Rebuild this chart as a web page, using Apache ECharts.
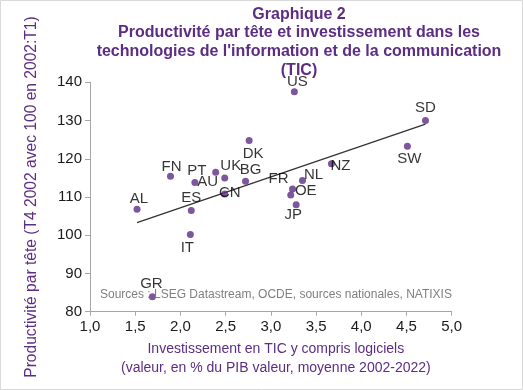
<!DOCTYPE html>
<html>
<head>
<meta charset="utf-8">
<script src="https://cdn.jsdelivr.net/npm/echarts@6/dist/echarts.min.js"></script>
<style>
html,body{margin:0;padding:0;background:#fff;}
#chart{width:523px;height:390px;}
</style>
</head>
<body>
<div id="chart"></div>
<script>
// ---- Data ----
const countries = ['AL','FN','ES','PT','AU','UK','CN','BG','DK','US','SD','SW','NZ','NL','FR','OE','JP','IT','GR'];
const ictInvestment = [1.52,1.89,2.12,2.16,2.39,2.49,2.49,2.72,2.76,3.26,4.71,4.51,3.67,3.35,3.24,3.22,3.28,2.11,1.69];
const productivity = [106.8,115.4,106.5,113.8,116.5,115.0,110.8,114.1,124.8,137.5,130.0,123.3,118.7,114.3,112.1,110.5,108.0,100.2,83.9];
const xTicks = [1.0,1.5,2.0,2.5,3.0,3.5,4.0,4.5,5.0];
const yTicks = [80,90,100,110,120,130,140];

// ---- Label placement (style only, px offsets from marker centre) ----
const labelOffsets = {
  AL:[2,-10], FN:[1,-9], ES:[0,-13], PT:[2,-12], AU:[-8,10], UK:[6,-12],
  CN:[5,-1], BG:[5,-11], DK:[4,13], US:[3,-10], SD:[0,-13], SW:[2,13],
  NZ:[9,2], NL:[11,-6], FR:[-14,-10], OE:[15,-4], JP:[-3,10], IT:[-3,13], GR:[-1,-13]
};

// ---- Linear regression trend line ----
const n = ictInvestment.length;
const mx = ictInvestment.reduce((a,b)=>a+b,0)/n;
const my = productivity.reduce((a,b)=>a+b,0)/n;
let sxy=0, sxx=0;
for (let i=0;i<n;i++){ sxy += (ictInvestment[i]-mx)*(productivity[i]-my); sxx += (ictInvestment[i]-mx)**2; }
const slope = sxy/sxx, intercept = my - slope*mx;
const xmin = Math.min(...ictInvestment), xmax = Math.max(...ictInvestment);
const trend = [[xmin, intercept+slope*xmin],[xmax, intercept+slope*xmax]];

const purple = '#5c2d83';
const font = 'Liberation Sans, Arial, sans-serif';

const scatterData = countries.map((c,i)=>({ name:c, value:[ictInvestment[i], productivity[i]] }));

const chart = echarts.init(document.getElementById('chart'), null, {renderer:'canvas'});
chart.setOption({
  animation:false,
  backgroundColor:'#fff',
  textStyle:{fontFamily:font},
  grid:{left:90, right:71.3, top:82.3, bottom:78.3, containLabel:false},
  graphic:[
    {type:'rect', shape:{x:0.5,y:0.5,width:522,height:389}, style:{fill:'none', stroke:'#d9d9d9', lineWidth:1}, silent:true},
    {type:'text', style:{
      text:'Graphique 2\nProductivité par tête et investissement dans les\ntechnologies de l\'information et de la communication\n(TIC)',
      x:299, y:5, textAlign:'center', textVerticalAlign:'top',
      font:'bold 16px '+font, lineHeight:18.7, fill:purple}},
    {type:'text', style:{
      text:'Sources : LSEG Datastream, OCDE, sources nationales, NATIXIS',
      x:100, y:295, textAlign:'left', textVerticalAlign:'middle',
      font:'12px '+font, fill:'#7f7f7f'}, z:10}
  ],
  xAxis:{
    type:'value', min:xTicks[0], max:xTicks[xTicks.length-1], interval:0.5,
    name:'Investissement en TIC y compris logiciels\n(valeur, en % du PIB valeur, moyenne 2002-2022)',
    nameLocation:'middle', nameGap:28,
    nameTextStyle:{color:purple, fontSize:14, lineHeight:19, padding:[0,0,0,10], fontFamily:font},
    axisLine:{show:true, onZero:false, lineStyle:{color:'#a6a6a6', width:1}},
    axisTick:{show:true, length:4, lineStyle:{color:'#a6a6a6'}},
    axisLabel:{color:'#1a1a1a', fontSize:15, margin:8, fontFamily:font,
      formatter:v=>v.toFixed(1).replace('.',',')},
    splitLine:{show:false}
  },
  yAxis:{
    type:'value', min:yTicks[0], max:yTicks[yTicks.length-1], interval:10,
    name:'Productivité par tête (T4 2002 avec 100 en 2002:T1)',
    nameLocation:'middle', nameGap:50, nameRotate:90,
    nameTextStyle:{color:purple, fontSize:15.6, fontFamily:font},
    axisLine:{show:true, onZero:false, lineStyle:{color:'#a6a6a6', width:1}},
    axisTick:{show:true, length:5, lineStyle:{color:'#a6a6a6'}},
    axisLabel:{color:'#1a1a1a', fontSize:15, margin:8, fontFamily:font},
    splitLine:{show:false}
  },
  series:[
    {
      type:'line', data:trend, symbol:'none', silent:true,
      lineStyle:{color:'#333333', width:1.3}, z:2
    },
    {
      type:'scatter', data:scatterData, symbol:'circle', symbolSize:7,
      itemStyle:{color:purple},
      label:{show:true, position:'inside', formatter:p=>p.name, color:'#000', fontSize:15, fontFamily:font},
      labelLayout:function(params){
        const o = labelOffsets[countries[params.dataIndex]] || [0,0];
        return {dx:o[0], dy:o[1], hideOverlap:false};
      },
      z:3
    }
  ]
});
</script>
</body>
</html>
